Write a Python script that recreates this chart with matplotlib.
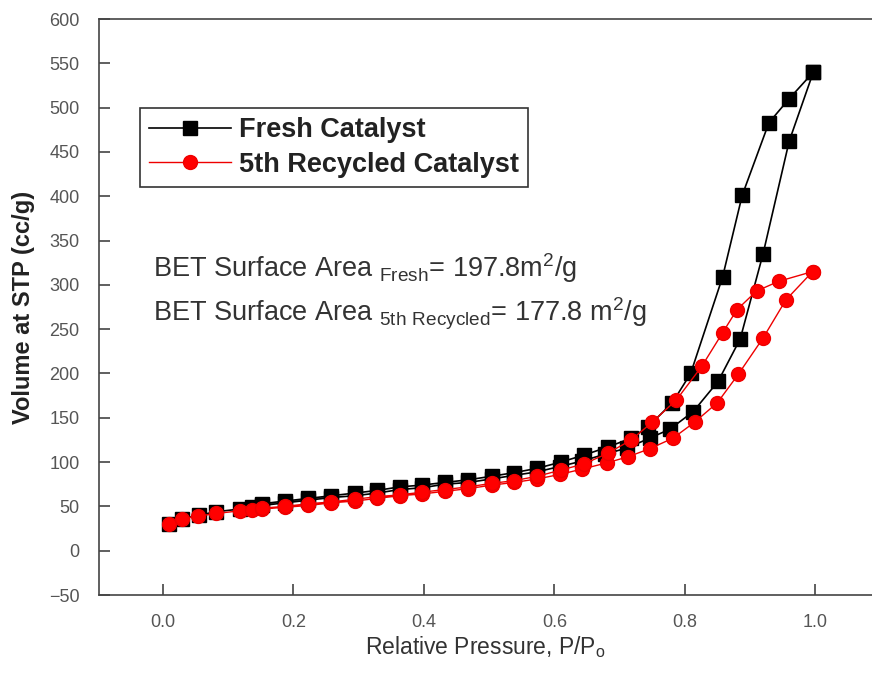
import matplotlib

matplotlib.use("Agg")
import matplotlib.pyplot as plt
import numpy as np


# fresh catalyst, adsorption then desorption branch
fresh_ads_p = [0.01, 0.03, 0.055, 0.082, 0.118, 0.136, 0.152, 0.187, 0.223, 0.258, 0.294, 0.328,
               0.363, 0.397, 0.432, 0.468, 0.504, 0.538, 0.574, 0.608, 0.642, 0.678, 0.712, 0.746,
               0.777, 0.813, 0.851, 0.885, 0.92, 0.96, 0.997]
fresh_ads_v = [30, 36, 40, 44, 47, 49, 51, 54, 57, 60, 62, 65,
               69, 71, 75, 77, 81, 85, 89, 95, 101, 109, 116, 127,
               137, 157, 191, 239, 335, 462, 540]
fresh_des_p = [0.997, 0.96, 0.929, 0.888, 0.858, 0.809, 0.781, 0.744, 0.718, 0.682, 0.646, 0.61,
               0.574, 0.538, 0.504, 0.468, 0.432, 0.397, 0.363, 0.328, 0.294, 0.258, 0.223, 0.187, 0.152]
fresh_des_v = [540, 510, 483, 401, 309, 200, 167, 140, 127, 117, 108, 100,
               93, 88, 84, 80, 77, 74, 72, 68, 65, 62, 59, 56, 53]

# 5th recycled catalyst
recyc_ads_p = [0.009, 0.029, 0.054, 0.082, 0.118, 0.136, 0.152, 0.187, 0.223, 0.258, 0.294, 0.328,
               0.363, 0.397, 0.432, 0.468, 0.504, 0.538, 0.574, 0.608, 0.642, 0.68, 0.713, 0.746,
               0.782, 0.815, 0.85, 0.882, 0.92, 0.955, 0.996]
recyc_ads_v = [30, 36, 39, 42, 45, 46, 47, 49, 51, 54, 56, 59,
               62, 64, 67, 70, 74, 77, 81, 86, 92, 99, 106, 115,
               127, 145, 167, 199, 240, 283, 315]
recyc_des_p = [0.996, 0.944, 0.91, 0.88, 0.858, 0.826, 0.787, 0.75, 0.718, 0.682, 0.646, 0.61,
               0.574, 0.538, 0.504, 0.468, 0.432, 0.397, 0.363, 0.328, 0.294, 0.258, 0.223, 0.187, 0.152]
recyc_des_v = [315, 304, 293, 272, 246, 208, 170, 145, 125, 110, 98, 91,
               84, 79, 76, 72, 69, 66, 63, 61, 58, 55, 53, 50, 48]

x_ticks = [0.0, 0.2, 0.4, 0.6, 0.8, 1.0]
y_ticks = list(range(-50, 601, 50))

plt.rcParams["font.family"] = ["Liberation Sans", "DejaVu Sans"]
plt.rcParams["mathtext.fontset"] = "custom"
plt.rcParams["mathtext.rm"] = "Liberation Sans"

fig = plt.figure(figsize=(8.72, 6.78), dpi=100)
ax = fig.add_axes([99 / 872, 1 - 595 / 678, 1 - 99 / 872, (595 - 19) / 678])

ax.plot(fresh_ads_p + fresh_des_p, fresh_ads_v + fresh_des_v, "-s", color="black", lw=1.2,
        ms=9.5, mfc="black", mec="black", label="Fresh Catalyst")
ax.plot(recyc_ads_p + recyc_des_p, recyc_ads_v + recyc_des_v, "-o", color="#ee0000", lw=1.0,
        ms=10, mfc="#ff0000", mec="#ee0000", label="5th Recycled Catalyst")

ax.set_xlim(-0.098, 1.087)
ax.set_ylim(-50, 600)
ax.set_xticks(x_ticks)
ax.set_xticklabels([f"{t:.1f}" for t in x_ticks])
ax.set_yticks(y_ticks)
ax.tick_params(direction="in", length=8, width=1.2, color="#444444", labelcolor="#555555",
               labelsize=13, pad=14)
for side in ["left", "bottom", "top"]:
    ax.spines[side].set_color("#444444")
    ax.spines[side].set_linewidth(1.2)
ax.spines["right"].set_visible(False)

ax.set_ylabel("Volume at STP (cc/g)", fontsize=17, fontweight="bold", color="#222222", labelpad=10)
ax.set_xlabel(r"Relative Pressure, P/P$_{\mathregular{o}}$", fontsize=16.5, color="#333333", labelpad=2)

ax.text(153 / 872, 1 - 277 / 678, r"BET Surface Area $_{\mathregular{Fresh}}$= 197.8m$^{\mathregular{2}}$/g",
        transform=fig.transFigure, fontsize=19.5, color="#333333", va="baseline")
ax.text(153 / 872, 1 - 321 / 678,
        r"BET Surface Area $_{\mathregular{5th\ Recycled}}$= 177.8 m$^{\mathregular{2}}$/g",
        transform=fig.transFigure, fontsize=19.5, color="#333333", va="baseline")

leg = ax.legend(loc="upper left", bbox_to_anchor=(140 / 872, 1 - 108 / 678), bbox_transform=fig.transFigure,
                borderaxespad=0, fancybox=False, frameon=True, handlelength=3.0, handletextpad=0.3,
                borderpad=0.35, labelspacing=0.3, prop={"size": 19.5, "weight": "bold"})
leg.get_frame().set_edgecolor("black")
leg.get_frame().set_linewidth(1.2)
for t in leg.get_texts():
    t.set_color("#222222")

fig.savefig("out.png", dpi=100)
